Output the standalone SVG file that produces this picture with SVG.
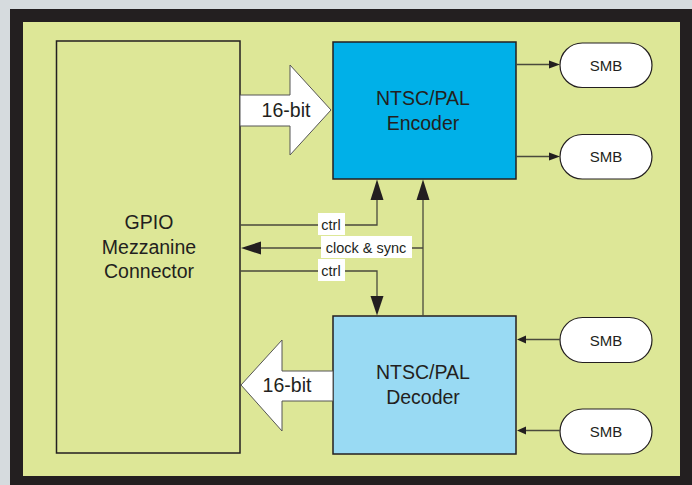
<svg xmlns="http://www.w3.org/2000/svg" width="692" height="485" viewBox="0 0 692 485">
<defs>
<style>
.box{stroke:#231f20;stroke-width:1.5}
.t{font-family:"Liberation Sans",Arial,sans-serif;fill:#231f20;text-anchor:middle}
.big{font-size:19.5px}
.smbt{font-size:15px}
.lbl{font-size:14.5px}
.pill{fill:#ffffff;stroke:#231f20;stroke-width:1.2}
.ln{fill:none;stroke:#4a4a3c;stroke-width:1.3}
.ah{fill:#231f20}
.fat{fill:#ffffff;stroke:#555555;stroke-width:1}
</style>
</defs>
<rect x="0" y="0" width="692" height="485" fill="#d6dbde"/>
<rect x="10" y="9" width="682" height="476" fill="#231f20"/>
<rect x="23" y="22" width="657" height="454" fill="#dde797"/>

<g id="gpio">
<rect class="box" x="56.5" y="41" width="183.5" height="412" fill="#dde797"/>
<text class="t big" x="149" y="228.5">GPIO</text>
<text class="t big" x="149" y="253.5">Mezzanine</text>
<text class="t big" x="149" y="277.5">Connector</text>
</g>

<g id="encoder">
<rect class="box" x="333" y="42" width="183" height="137" fill="#00b0e8"/>
<text class="t big" x="423" y="104.5">NTSC/PAL</text>
<text class="t big" x="423" y="129.5">Encoder</text>
</g>

<g id="decoder">
<rect class="box" x="333" y="316" width="183" height="138" fill="#99daf3"/>
<text class="t big" x="423" y="378.5">NTSC/PAL</text>
<text class="t big" x="423" y="403.5">Decoder</text>
</g>

<g id="smb1">
<rect class="pill" x="560" y="43" width="92" height="44.5" rx="22.25"/>
<text class="t smbt" x="606" y="70.5">SMB</text>
</g>
<g id="smb2">
<rect class="pill" x="560" y="134.5" width="92" height="44.5" rx="22.25"/>
<text class="t smbt" x="606" y="162">SMB</text>
</g>
<g id="smb3">
<rect class="pill" x="560" y="317.5" width="92" height="45" rx="22.5"/>
<text class="t smbt" x="606" y="345.5">SMB</text>
</g>
<g id="smb4">
<rect class="pill" x="560" y="409" width="92" height="45" rx="22.5"/>
<text class="t smbt" x="606" y="437">SMB</text>
</g>

<g id="connectors">
<!-- 16-bit bus arrows -->
<polygon class="fat" points="240,95 290,95 290,65 331,110 290,155 290,126 240,126"/>
<text class="t big" x="286" y="116.5">16-bit</text>
<polygon class="fat" points="241,385 282,340 282,371 333,371 333,401 282,401 282,431"/>
<text class="t big" x="287" y="391.5">16-bit</text>

<!-- SMB links -->
<path class="ln" d="M516 64.5 H550"/>
<polygon class="ah" points="549,60.5 549,68.5 560,64.5"/>
<path class="ln" d="M516 156.5 H550"/>
<polygon class="ah" points="549,152.5 549,160.5 560,156.5"/>
<path class="ln" d="M560 339.5 H526"/>
<polygon class="ah" points="526,335.5 526,343.5 517,339.5"/>
<path class="ln" d="M560 430.5 H526"/>
<polygon class="ah" points="526,426.5 526,434.5 517,430.5"/>

<!-- control / sync -->
<path class="ln" d="M240 225 H377 V199"/>
<polygon class="ah" points="370.5,200 383.5,200 377,179.5"/>
<path class="ln" d="M423 316 V199"/>
<polygon class="ah" points="416.5,200 429.5,200 423,179.5"/>
<path class="ln" d="M423 248 H260"/>
<polygon class="ah" points="261,241.5 261,254.5 241,248"/>
<path class="ln" d="M240 271 H377 V297"/>
<polygon class="ah" points="370.5,296 383.5,296 377,315.5"/>

<rect x="318" y="213" width="27" height="22" fill="#ffffff"/>
<text class="t lbl" x="331" y="230">ctrl</text>
<rect x="321" y="236" width="91" height="22" fill="#ffffff"/>
<text class="t lbl" x="366" y="252.5">clock &amp; sync</text>
<rect x="318" y="259" width="27" height="22" fill="#ffffff"/>
<text class="t lbl" x="331" y="275.5">ctrl</text>
</g>
</svg>
